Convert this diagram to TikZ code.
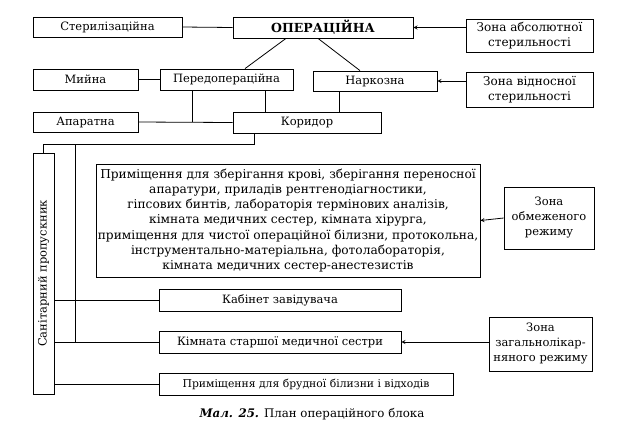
\documentclass[tikz,border=0pt]{standalone}
\usepackage{fontspec}
\setmainfont{DejaVu Serif}
\usetikzlibrary{arrows, positioning, calc}

\begin{document}
\begin{tikzpicture}[
    x=1pt, y=-1pt,
    room/.style={rectangle, draw, line width=0.8pt, inner sep=1pt, align=center, font=\fontsize{11.5}{15}\selectfont},
    zone/.style={room, minimum width=127pt, font=\fontsize{12}{15.5}\selectfont},
    link/.style={line width=0.8pt},
    arrow/.style={->, line width=0.8pt, >=stealth}
]
    \useasboundingbox (0,0) rectangle (624,432);

    % top row
    \node[room, minimum width=149pt, minimum height=20pt] (steril) at (107.5,27) {Стерилізаційна};
    \node[room, minimum width=180pt, minimum height=21pt, font=\fontsize{12.5}{15}\selectfont\bfseries] (oper) at (323,27.5) {ОПЕРАЦІЙНА};
    \node[zone, minimum height=33pt] (absolute) at (529.5,35.5) {Зона абсолютної\\стерильності};

    \node[room, minimum width=105pt, minimum height=21pt] (wash) at (85.5,79.5) {Мийна};
    \node[room, minimum width=133pt, minimum height=21pt] (preop) at (226.5,79.5) {Передопераційна};
    \node[room, minimum width=124pt, minimum height=20pt] (narcosis) at (375,81) {Наркозна};
    \node[zone, minimum height=35pt] (relative) at (529.5,89.5) {Зона відносної\\стерильності};

    \node[room, minimum width=105pt, minimum height=20pt] (apparatus) at (85.5,122) {Апаратна};
    \node[room, minimum width=148pt, minimum height=21pt] (corridor) at (307,122.5) {Коридор};

    % lower part
    \node[room, minimum width=21pt, minimum height=241pt, inner sep=0pt] (sanit) at (43.5,273.5) {\rotatebox{90}{Санітарний пропускник}};
    \node[room, minimum width=384pt, minimum height=113pt, font=\fontsize{12.2}{15.2}\selectfont] (storage) at (288,220.5) {Приміщення для зберігання крові, зберігання переносної\\апаратури, приладів рентгенодіагностики,\\гіпсових бинтів, лабораторія термінових аналізів,\\кімната медичних сестер, кімната хірурга,\\приміщення для чистої операційної білизни, протокольна,\\інструментально-матеріальна, фотолабораторія,\\кімната медичних сестер-анестезистів};
    \node[room, minimum width=90pt, minimum height=62pt] (restricted) at (549,218) {Зона\\обмеженого\\режиму};

    \node[room, minimum width=242pt, minimum height=22pt] (head) at (280,300) {Кабінет завідувача};
    \node[room, minimum width=242pt, minimum height=22pt] (senior) at (280,342) {Кімната старшої медичної сестри};
    \node[room, minimum width=294pt, minimum height=22pt, font=\fontsize{10.8}{15}\selectfont] (dirty) at (306,384) {Приміщення для брудної білизни і відходів};
    \node[room, minimum width=103pt, minimum height=54pt] (general) at (540.5,344) {Зона\\загальнолікар-\\няного режиму};

    \node[font=\fontsize{11.8}{13}\selectfont] (caption) at (312,414) {\textbf{\textit{Мал. 25.}} План операційного блока};

    % connections
    \draw[link] (steril.east) -- (oper.west);
    \draw[link] ([xshift=-37pt]oper.south) -- ([xshift=18.5pt]preop.north);
    \draw[link] ([xshift=-5pt]oper.south) -- ([xshift=-15pt]narcosis.north);
    \draw[link] (wash.east) -- (preop.west);
    \draw[link] (apparatus.east) -- (corridor.west);
    \draw[link] ([xshift=-34.5pt]preop.south) coordinate (pa) -- (pa |- apparatus.east);
    \draw[link] ([xshift=38.5pt]preop.south) coordinate (pk) -- (pk |- corridor.north);
    \draw[link] ([xshift=-36pt]narcosis.south) coordinate (nk) -- (nk |- corridor.north);
    \draw[link] ([xshift=-53pt]corridor.south) -- ++(0,11) coordinate (bend) -| (sanit.north);
    \coordinate (trunk) at (75,144);
    \draw[link] (trunk) -- (trunk |- senior.west);
    \draw[link] (sanit.east |- head.west) -- (head.west);
    \draw[link] (sanit.east |- senior.west) -- (senior.west);
    \draw[link] (sanit.east |- dirty.west) -- (dirty.west);

    \draw[arrow] (absolute.west |- oper.east) -- (oper.east);
    \draw[arrow] (relative.west |- narcosis.east) -- (narcosis.east);
    \draw[arrow] (restricted.west) -- (storage.east);
    \draw[arrow] (general.west |- senior.east) -- (senior.east);
\end{tikzpicture}
\end{document}
